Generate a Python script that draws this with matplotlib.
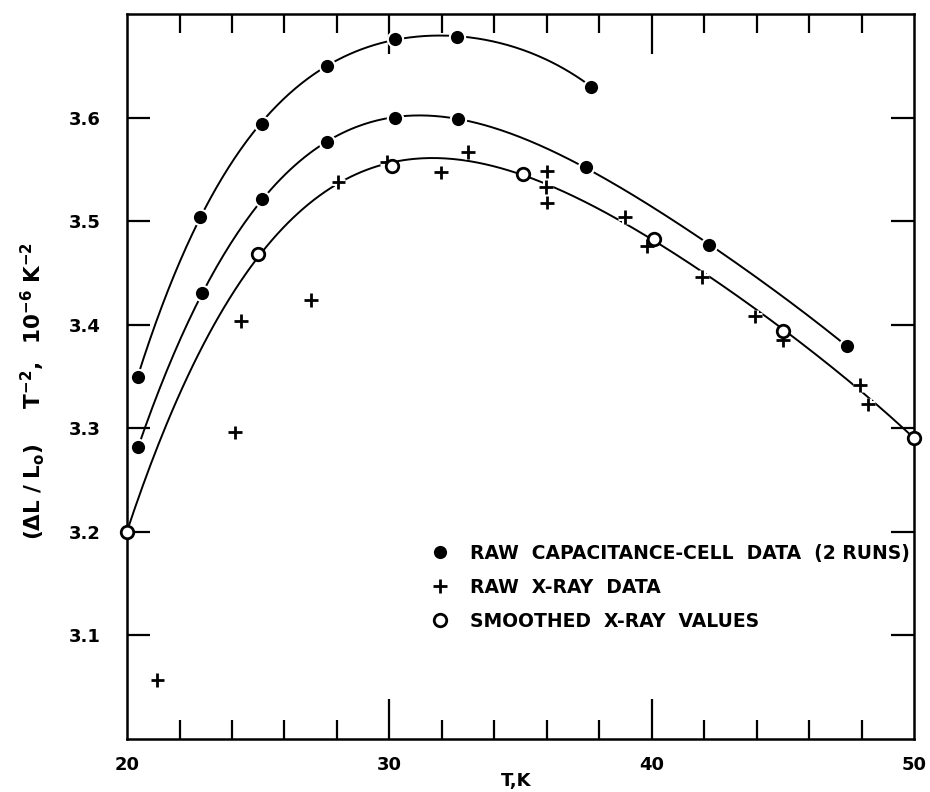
import numpy as np
import matplotlib.pyplot as plt
import matplotlib.patheffects as pe

# capacitance-cell data, run 1 (upper curve)
run1_T = [20.41, 22.78, 25.13, 27.61, 30.22, 32.59, 37.69]
run1_v = [3.350, 3.504, 3.594, 3.650, 3.676, 3.678, 3.630]

# capacitance-cell data, run 2 (middle curve)
run2_T = [20.43, 22.87, 25.13, 27.64, 30.22, 32.63, 37.50, 42.19, 47.46]
run2_v = [3.282, 3.431, 3.521, 3.576, 3.600, 3.599, 3.552, 3.477, 3.379]

# raw x-ray data
xray_T = [21.16, 24.10, 24.36, 27.00, 28.06, 29.90, 31.96, 33.01, 36.00, 35.96,
          36.00, 38.99, 39.81, 41.91, 43.94, 45.00, 47.94, 48.26]
xray_v = [3.057, 3.296, 3.404, 3.424, 3.538, 3.557, 3.547, 3.567, 3.548, 3.533,
          3.518, 3.504, 3.476, 3.446, 3.408, 3.385, 3.342, 3.323]

# smoothed x-ray values
smooth_T = [20.0, 25.0, 30.1, 35.09, 40.07, 45.0, 50.0]
smooth_v = [3.200, 3.468, 3.553, 3.546, 3.483, 3.394, 3.291]

plt.rcParams['font.family'] = 'DejaVu Sans'
plt.rcParams['mathtext.default'] = 'regular'

fig = plt.figure(figsize=(9.3, 7.92), dpi=100)
ax = fig.add_axes([0.1366, 0.0669, 0.8462, 0.9154])

halo = [pe.Stroke(linewidth=5, foreground='white'), pe.Normal()]


def smooth_curve(T, v, deg):
    # hand-drawn style smooth curve through the points
    c = np.polyfit(T, v, deg)
    t = np.linspace(min(T), max(T), 300)
    return t, np.polyval(c, t)


for T, v, d in [(run1_T, run1_v, 4), (run2_T, run2_v, 4), (smooth_T, smooth_v, 4)]:
    t, y = smooth_curve(T, v, d)
    ax.plot(t, y, color='black', lw=1.4, zorder=1)

ax.plot(run1_T + run2_T, run1_v + run2_v, 'o', color='black', ms=11,
        mec='white', mew=1.5, zorder=3, label='RAW  CAPACITANCE-CELL  DATA  (2 RUNS)')
ax.plot(xray_T, xray_v, '+', color='black', ms=10, mew=2, zorder=3,
        path_effects=halo, label='RAW  X-RAY  DATA')
ax.plot(smooth_T, smooth_v, 'o', mfc='white', mec='black', ms=9, mew=2,
        zorder=4, clip_on=False, label='SMOOTHED  X-RAY  VALUES')

ax.set_xlim(20, 50)
ax.set_ylim(3.0, 3.70)

ax.set_xticks([20, 30, 40, 50])
ax.set_xticks(np.arange(22, 49, 2), minor=True)
ax.set_yticks([3.1, 3.2, 3.3, 3.4, 3.5, 3.6])
ax.set_yticklabels(['3.1', '3.2', '3.3', '3.4', '3.5', '3.6'])
ax.tick_params(axis='x', which='major', direction='in', length=29, width=1.6,
               top=True, pad=12, labelsize=13)
ax.tick_params(axis='x', which='minor', direction='in', length=14, width=1.6,
               top=True)
ax.tick_params(axis='y', which='major', direction='in', length=16.5, width=1.6,
               right=True, pad=19, labelsize=13)
for i in (0, -1):
    tk = ax.xaxis.get_major_ticks()[i]
    tk.tick1line.set_visible(False)
    tk.tick2line.set_visible(False)
for lab in ax.get_xticklabels() + ax.get_yticklabels():
    lab.set_fontweight('bold')

for s in ax.spines.values():
    s.set_linewidth(1.8)

ax.set_xlabel('T,K', fontsize=13, fontweight='bold')
ax.xaxis.set_label_coords(0.495, -0.045)
ax.set_ylabel(r'$(\Delta L\ /\ L_o)\quad\ \ T^{-2},\ \ 10^{-6}\ K^{-2}$',
              fontsize=15.5, fontweight='bold')
ax.yaxis.set_label_coords(-0.102, 0.48)

leg = ax.legend(loc='upper left', bbox_to_anchor=(0.376, 0.28), frameon=False,
                handlelength=1.0, handletextpad=1.1, labelspacing=0.8,
                borderaxespad=0, prop={'size': 13.5, 'weight': 'bold'})

fig.savefig('out.png', dpi=100)
